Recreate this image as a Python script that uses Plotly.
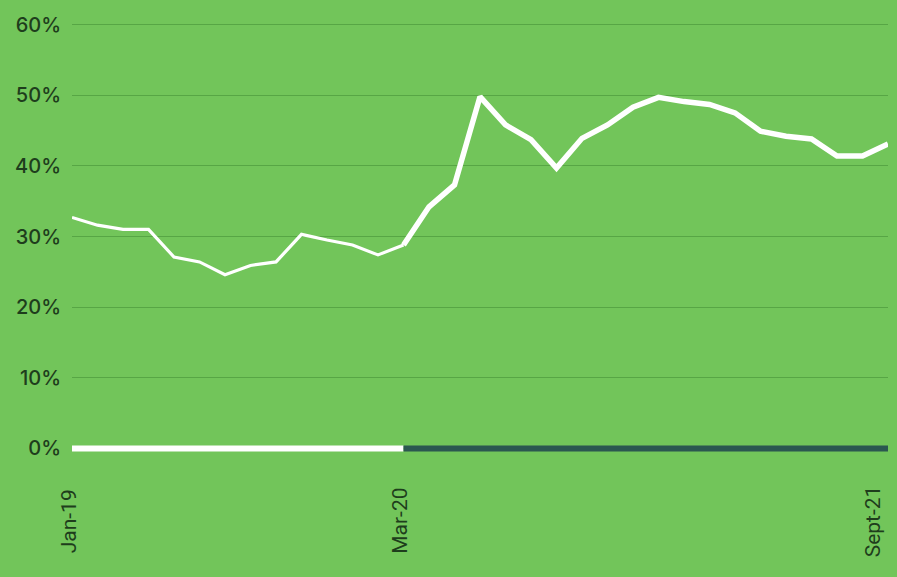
import plotly.graph_objects as go

months = ["Jan-19","Feb-19","Mar-19","Apr-19","May-19","Jun-19","Jul-19","Aug-19","Sep-19","Oct-19",
          "Nov-19","Dec-19","Jan-20","Feb-20","Mar-20","Apr-20","May-20","Jun-20","Jul-20","Aug-20",
          "Sep-20","Oct-20","Nov-20","Dec-20","Jan-21","Feb-21","Mar-21","Apr-21","May-21","Jun-21",
          "Jul-21","Aug-21","Sep-21"]
values = [32.7, 31.6, 31.0, 31.0, 27.1, 26.4, 24.6, 25.9, 26.4, 30.3,
          29.5, 28.8, 27.4, 28.8, 34.2, 37.3, 49.8, 45.8, 43.7, 39.7,
          43.9, 45.8, 48.3, 49.7, 49.1, 48.7, 47.5, 44.9, 44.2, 43.8,
          41.4, 41.4, 43.1]
split_index = 13
tick_index = [0, 13, 32]
tick_labels = ["Jan-19", "Mar-20", "Sept-21"]
y_ticks = [0, 10, 20, 30, 40, 50, 60]

x = list(range(len(values)))
bg = "#72C55A"
text_col = "#1E3D1C"

fig = go.Figure()
# baseline bar
fig.add_trace(go.Scatter(x=[x[0] - 0.15, x[split_index]], y=[0, 0], mode="lines",
                         line=dict(color="#FFFFFF", width=6), hoverinfo="skip"))
fig.add_trace(go.Scatter(x=[x[split_index], x[-1]], y=[0, 0], mode="lines",
                         line=dict(color="#2B5750", width=6), hoverinfo="skip"))
# line before / after
fig.add_trace(go.Scatter(x=x[:split_index + 1], y=values[:split_index + 1], mode="lines",
                         line=dict(color="#FFFFFF", width=3.2)))
fig.add_trace(go.Scatter(x=x[split_index:], y=values[split_index:], mode="lines",
                         line=dict(color="#FFFFFF", width=5.5)))

# x labels as centered rotated annotations
for i, (ti, tl) in enumerate(zip(tick_index, tick_labels)):
    last = i == len(tick_index) - 1
    fig.add_annotation(x=ti, y=-0.14, xref="x", yref="paper", text=tl, showarrow=False,
                       textangle=-90, xanchor="right" if last else "center", yanchor="middle",
                       xshift=-1 if last else -3,
                       font=dict(family="Roboto, sans-serif", size=21, color=text_col))

fig.update_layout(
    width=897, height=577,
    paper_bgcolor=bg, plot_bgcolor=bg,
    margin=dict(l=72, r=9, t=14, b=118),
    showlegend=False,
    font=dict(family="Inter, Lato, sans-serif", color=text_col, size=17),
)
fig.update_xaxes(range=[0, 32], tickvals=[], showticklabels=False, showgrid=False,
                 zeroline=False, showline=False, ticks="")
fig.update_yaxes(range=[-1.5, 61.5], tickmode="array", tickvals=y_ticks,
                 ticktext=[f"{v}%" for v in y_ticks], showgrid=True,
                 gridcolor="#57A645", gridwidth=1, zeroline=False, showline=False,
                 ticks="", ticklabelstandoff=10,
                 tickfont=dict(family="Inter, sans-serif", size=20, color=text_col, weight=500))

fig.write_html("out.html", config={"displayModeBar": False},
               post_script="document.body.style.margin='0';document.body.style.background='" + bg + "';")
